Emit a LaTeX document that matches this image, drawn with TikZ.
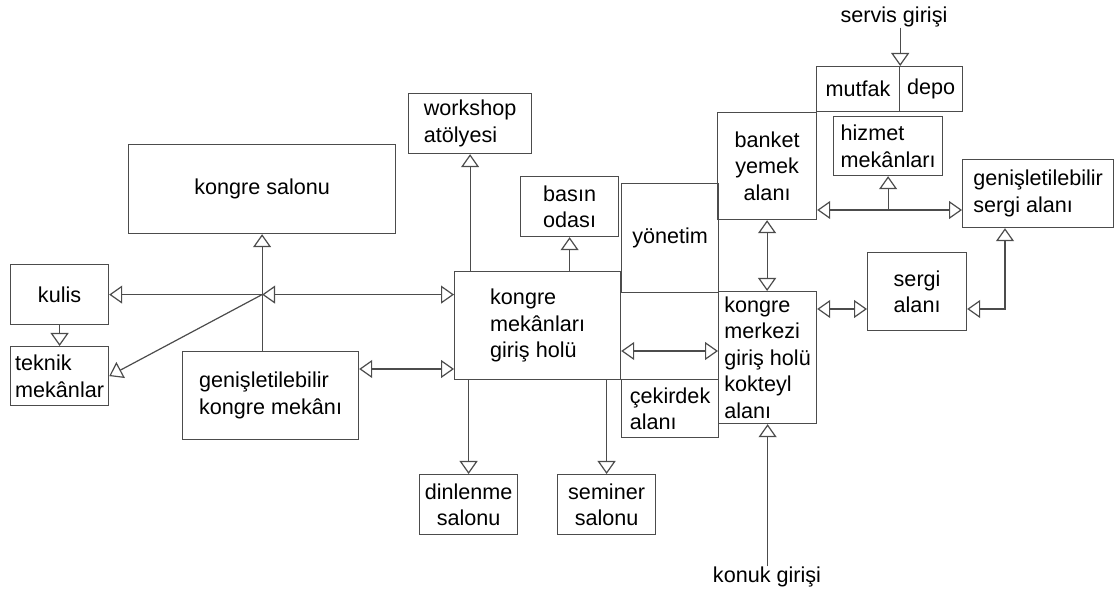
\documentclass[tikz,border=0pt]{standalone}
\usepackage{fontspec}
\setmainfont{Liberation Sans}
\usetikzlibrary{arrows.meta}

\begin{document}
\begin{tikzpicture}[x=0.5pt, y=-0.5pt,
    every node/.style={font=\fontsize{10.8}{13.3}\selectfont, inner sep=0pt},
    box/.style={draw=black!70, line width=0.6pt, anchor=north west},
    link/.style={draw=black!70, line width=0.6pt},
    >={Triangle[open, length=6.5pt, width=9pt]}]
    \useasboundingbox (0,0) rectangle (1114,592) ;

    \node [box, minimum width=133.5pt, minimum height=44.5pt] (salonu) at (128,144) {kongre salonu} ;
    \node [box, minimum width=49pt, minimum height=30pt] (kulis) at (10,264) {kulis} ;
    \node [box, minimum width=49pt, minimum height=29.5pt, align=left] (teknik) at (10,346) {teknik\\mekânlar} ;
    \node [box, minimum width=88pt, minimum height=44pt, align=left] (genk) at (182,351) {genişletilebilir\\kongre mekânı} ;
    \node [box, minimum width=61.5pt, minimum height=30pt, align=left] (work) at (408,93) {workshop\\atölyesi} ;
    \node [box, minimum width=49pt, minimum height=30pt, align=center] (basin) at (520,176) {basın\\odası} ;
    \node [box, minimum width=83pt, minimum height=54pt, align=left] (giris) at (454,271) {kongre\\mekânları\\giriş holü} ;
    \node [box, minimum width=48.5pt, minimum height=54.5pt] (yonetim) at (621,183) {yönetim} ;
    \node [box, minimum width=48.5pt, minimum height=29pt, align=left] (cekirdek) at (621,379) {çekirdek\\alanı} ;
    \node [box, minimum width=49pt, minimum height=66pt, align=left] (merkez) at (718,291) {kongre\\merkezi\\giriş holü\\kokteyl\\alanı} ;
    \node [box, minimum width=49pt, minimum height=30pt, align=center] (dinl) at (419,474) {dinlenme\\salonu} ;
    \node [box, minimum width=49pt, minimum height=30pt, align=center] (sem) at (557,474) {seminer\\salonu} ;
    \node [box, minimum width=49.5pt, minimum height=53.5pt, align=center] (banket) at (717,112) {banket\\yemek\\alanı} ;
    \node [box, minimum width=41.5pt, minimum height=22.5pt] (mutfak) at (816,66) {mutfak} ;
    \node [box, minimum width=31.5pt, minimum height=22.5pt] (depo) at (899,66) {depo} ;
    \node [box, minimum width=54.5pt, minimum height=29.5pt, align=left] (hizmet) at (833,116) {hizmet\\mekânları} ;
    \node [box, minimum width=75.5pt, minimum height=34pt, align=left] (gsergi) at (962,159) {genişletilebilir\\sergi alanı} ;
    \node [box, minimum width=49.5pt, minimum height=39pt, align=left] (sergi) at (867,252) {sergi\\alanı} ;
    \node (servis) at (894,17) {servis girişi} ;
    \node (konuk) at (767,577) {konuk girişi} ;

    \coordinate (hub) at (salonu.south |- kulis) ;
    \draw [link, ->] (hub) -- (kulis.east) ;
    \draw [link, <->] (hub) -- (hub -| giris.west) ;
    \draw [link, ->] (hub) -- (teknik.east) ;
    \draw [link, ->] (genk.north -| hub) -- (salonu.south) ;
    \draw [link, ->] (kulis.south) -- (teknik.north) ;
    \draw [link, <->] (genk.east |- 0,369) -- (giris.west |- 0,369) ;

    \draw [link, ->] (work.south |- giris.north) -- (work.south) ;
    \draw [link, ->] (basin.south |- giris.north) -- (basin.south) ;
    \draw [link, ->] (giris.south -| dinl.north) -- (dinl.north) ;
    \draw [link, ->] (giris.south -| sem.north) -- (sem.north) ;
    \draw [link, <->] (giris.east |- 0,351) -- (merkez.west |- 0,351) ;

    \draw [link, <->] (banket.south) -- (banket.south |- merkez.north) ;
    \draw [link, ->] (konuk.north -| merkez.south) -- (merkez.south) ;
    \draw [link, ->] (servis.south -| mutfak.north east) -- (mutfak.north east) ;
    \draw [link, <->] (banket.east |- 0,210) -- (gsergi.west |- 0,210) ;
    \draw [link, ->] (hizmet.south |- 0,210) -- (hizmet.south) ;
    \draw [link, <->] (merkez.east |- 0,309) -- (sergi.west |- 0,309) ;
    \draw [link, <->] (sergi.east |- 0,309) -| (gsergi.south -| 1005,0) ;
\end{tikzpicture}
\end{document}
